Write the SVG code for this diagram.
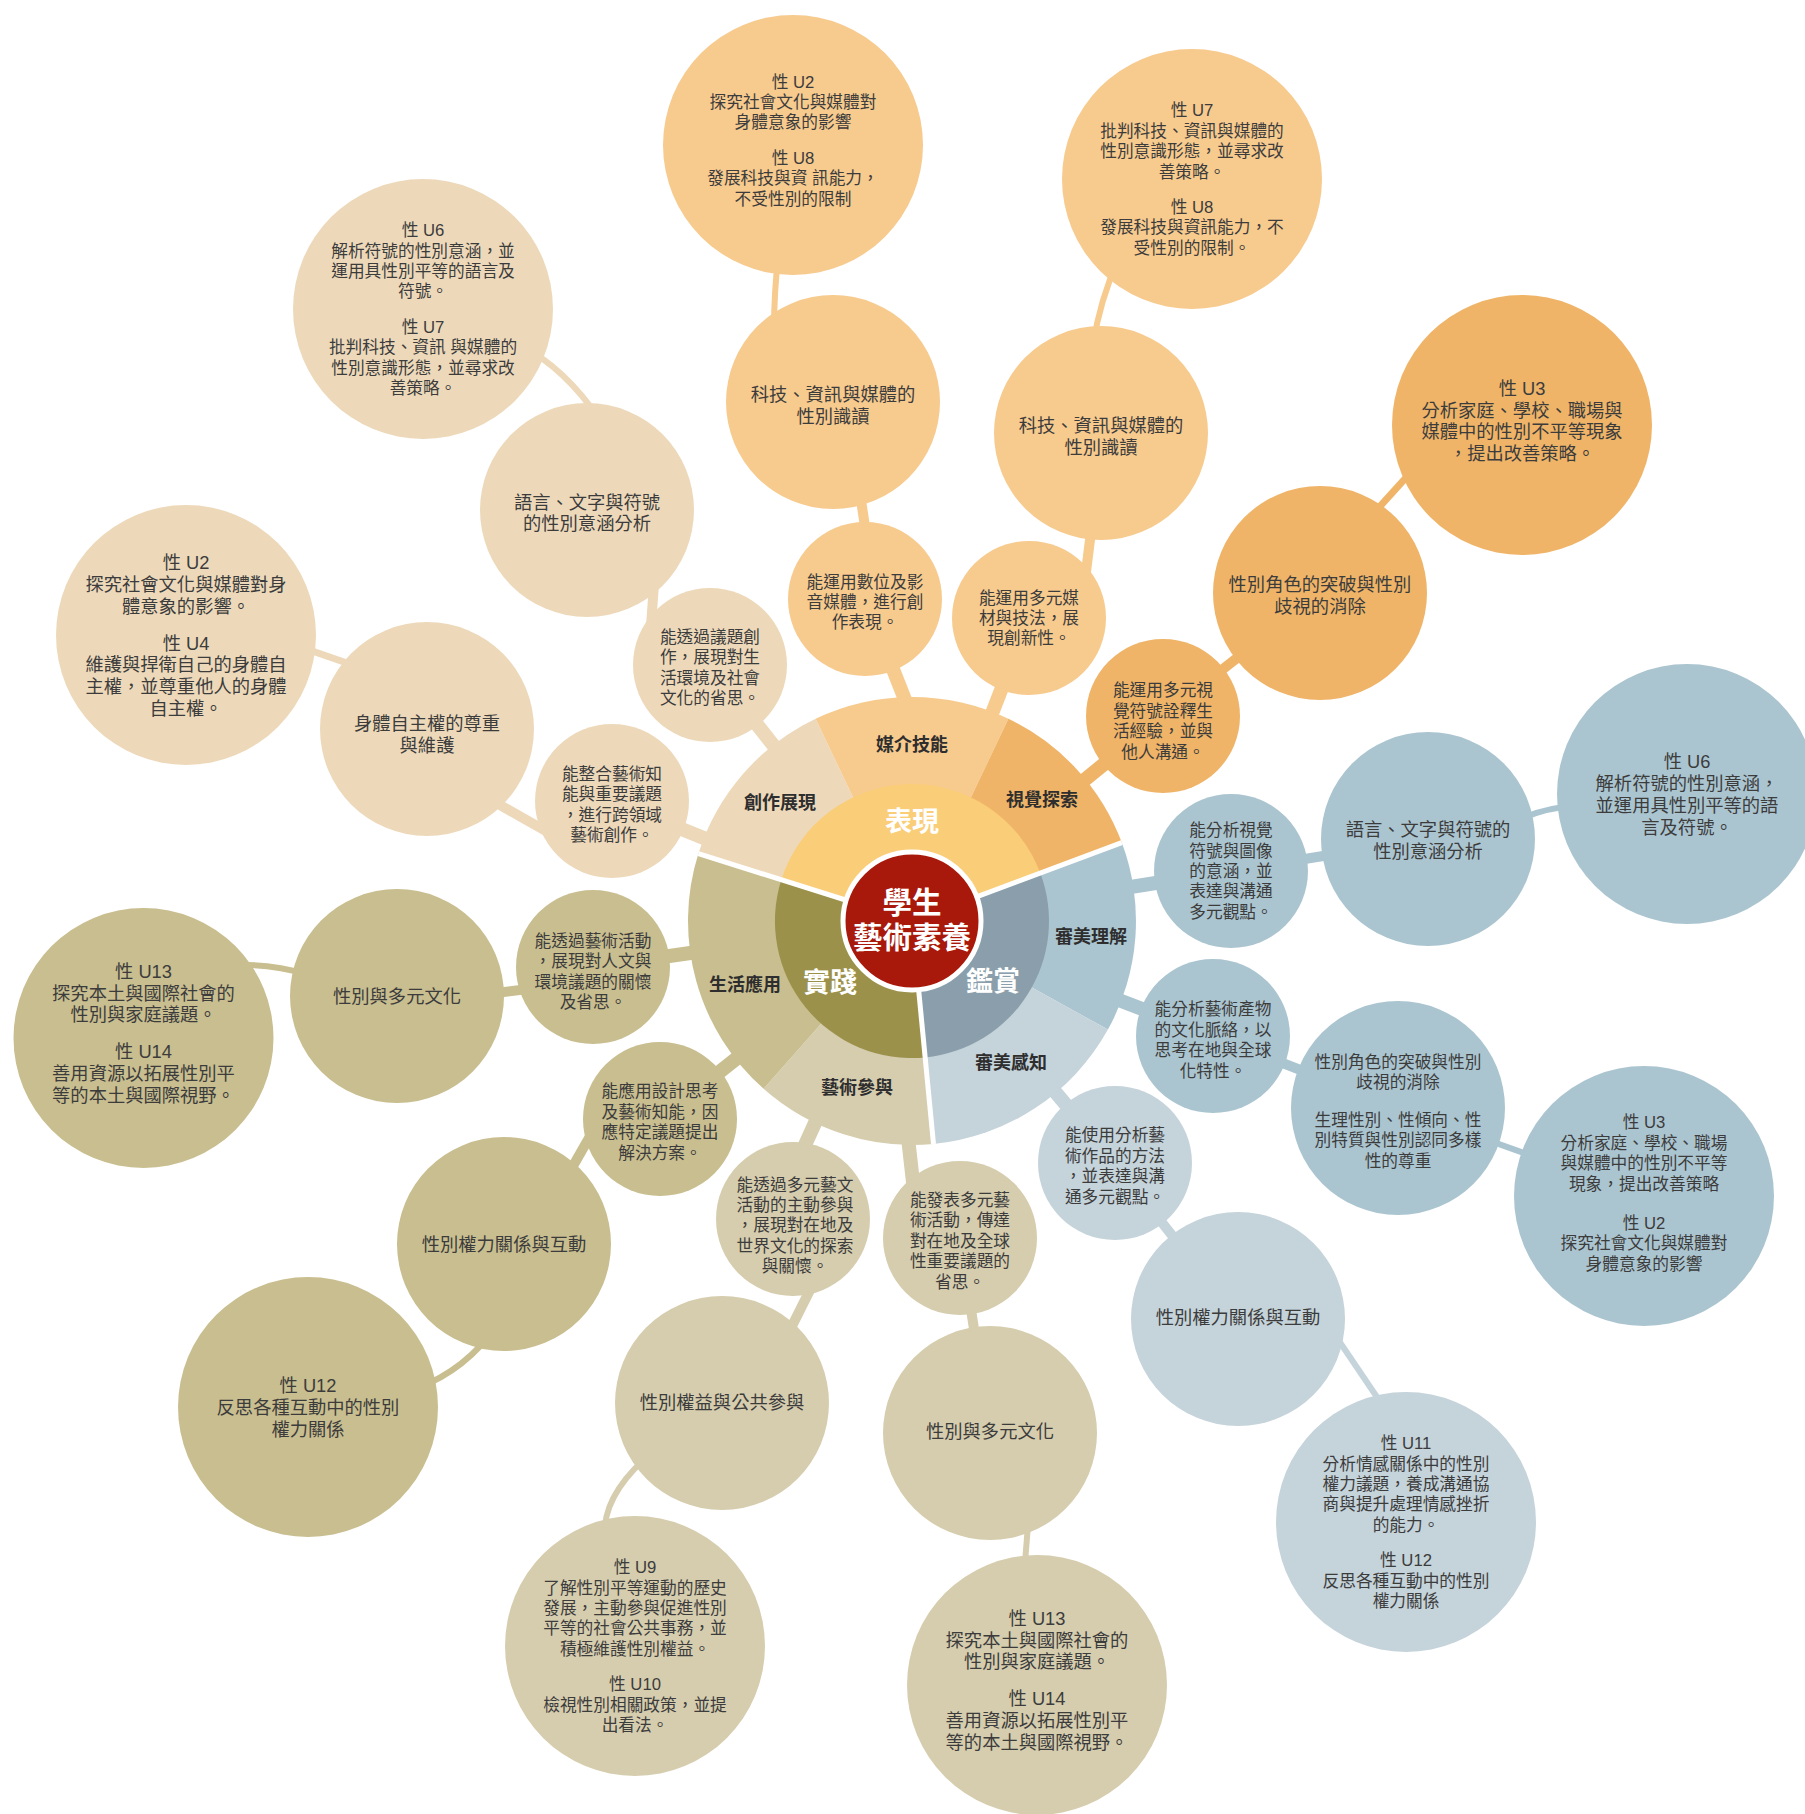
<svg xmlns="http://www.w3.org/2000/svg" width="1805" height="1814" viewBox="0 0 1805 1814">
<style>
.c1{fill:#EDD9BA}.c2{fill:#F7CA8E}.c3{fill:#EFB468}.c4{fill:#ABC5D0}.c5{fill:#C5D3DA}.c6{fill:#C9BE8F}.c7{fill:#D6CDAE}
.k{fill:none;stroke-linecap:butt}
.k1{stroke:#EDD9BA}.k2{stroke:#F7CA8E}.k3{stroke:#EFB468}.k4{stroke:#ABC5D0}.k5{stroke:#C5D3DA}.k6{stroke:#C9BE8F}.k7{stroke:#D6CDAE}
.w14{stroke-width:14}.w10{stroke-width:10}.w6{stroke-width:6}
text{font-family:"Liberation Sans","Noto Sans CJK TC","Noto Sans CJK SC",sans-serif;text-anchor:middle;dominant-baseline:central}
.tx{fill:#3c3c3c}
.s{font-size:16.7px}.m{font-size:18.3px}
.lab{font-size:18px;font-weight:bold;fill:#2e2e2e}
.big{font-size:27px;font-weight:bold;fill:#fff}
.ctr{font-size:29.5px;font-weight:bold;fill:#fff}
</style>
<rect width="1805" height="1814" fill="#fff"/>
<g id="connectors">
<line class="k k1 w14" x1="612" y1="801" x2="741" y2="853"/>
<line class="k k1 w14" x1="710" y1="665" x2="796" y2="774"/>
<line class="k k1 w10" x1="486" y1="797" x2="567" y2="843"/>
<line class="k k1" stroke-width="7" x1="289" y1="643" x2="370" y2="671"/>
<line class="k k1 w10" x1="655" y1="570" x2="650" y2="640"/>
<path class="k k1 w6" d="M520,345 Q565,368 600,420"/>
<line class="k k2 w14" x1="870" y1="611" x2="915" y2="725"/>
<line class="k k2 w14" x1="1029" y1="618" x2="979" y2="747"/>
<line class="k k2 w10" x1="858" y1="480" x2="870" y2="560"/>
<line class="k k2 w10" x1="1095" y1="500" x2="1085" y2="580"/>
<path class="k k2 w6" d="M779,250 Q774,290 774,330"/>
<path class="k k2 w6" d="M1118,260 Q1100,300 1093,345"/>
<line class="k k3 w14" x1="1163" y1="716" x2="1055" y2="804"/>
<line class="k k3 w10" x1="1163" y1="716" x2="1320" y2="593"/>
<line class="k k3" stroke-width="7" x1="1350" y1="539.5" x2="1440" y2="440"/>
<line class="k k4 w14" x1="1231" y1="871" x2="1093" y2="893"/>
<line class="k k4 w10" x1="1231" y1="871" x2="1428" y2="839"/>
<path class="k k4 w6" d="M1500,830 Q1535,808 1575,806"/>
<line class="k k4 w14" x1="1213" y1="1036" x2="1082" y2="986"/>
<line class="k k4 w10" x1="1213" y1="1036" x2="1398" y2="1108"/>
<line class="k k4 w6" x1="1398" y1="1108" x2="1644" y2="1196"/>
<line class="k k5 w14" x1="1115" y1="1163" x2="1025" y2="1056"/>
<line class="k k5 w10" x1="1115" y1="1163" x2="1238" y2="1319"/>
<line class="k k5 w6" x1="1310" y1="1298" x2="1410" y2="1446"/>
<line class="k k6 w14" x1="593" y1="967" x2="732" y2="947"/>
<line class="k k6 w10" x1="440" y1="1000" x2="560" y2="985"/>
<path class="k k6 w6" d="M230,966 Q265,962 310,975"/>
<line class="k k6 w14" x1="660" y1="1119" x2="770" y2="1032"/>
<line class="k k6 w10" x1="565" y1="1180" x2="605" y2="1110"/>
<path class="k k6 w6" d="M405,1392 Q455,1378 490,1335"/>
<line class="k k7 w14" x1="780" y1="1200" x2="830" y2="1090"/>
<line class="k k7 w14" x1="906" y1="1120" x2="915" y2="1200"/>
<line class="k k7 w10" x1="820" y1="1270" x2="785" y2="1340"/>
<path class="k k7 w6" d="M605,1540 Q600,1495 655,1450"/>
<line class="k k7 w10" x1="960" y1="1238" x2="990" y2="1433"/>
<line class="k k7 w6" x1="1030" y1="1500" x2="1022" y2="1600"/>
</g>
<g id="wheel">
<path id="sec-chuangzuo" class="c1" d="M912,921 L698.4,853.6 A224,224 0 0 1 815.6,718.8 Z"/>
<path id="sec-meijie" class="c2" d="M912,921 L815.6,718.8 A224,224 0 0 1 1008.4,718.8 Z"/>
<path id="sec-shijue" class="c3" d="M912,921 L1008.4,718.8 A224,224 0 0 1 1121.8,842.6 Z"/>
<path id="sec-lijie" class="c4" d="M912,921 L1121.8,842.6 A224,224 0 0 1 1107.9,1029.6 Z"/>
<path id="sec-ganzhi" class="c5" d="M912,921 L1107.9,1029.6 A224,224 0 0 1 933.5,1144 Z"/>
<path id="sec-canyu" class="c7" d="M912,921 L933.5,1144 A224,224 0 0 1 763.6,1088.8 Z"/>
<path id="sec-shenghuo" class="c6" d="M912,921 L763.6,1088.8 A224,224 0 0 1 698.4,853.6 Z"/>
<path id="ring-biaoxian" fill="#FACD79" d="M912,921 L781.3,879.8 A137,137 0 0 1 1040.3,873 Z"/>
<path id="ring-jianshang" fill="#8A9FAB" d="M912,921 L1040.3,873 A137,137 0 0 1 925.1,1057.4 Z"/>
<path id="ring-shijian" fill="#9C914A" d="M912,921 L925.1,1057.4 A137,137 0 0 1 781.3,879.8 Z"/>
<g stroke="#fff" stroke-width="5">
<line x1="912" y1="921" x2="698.4" y2="853.6"/>
<line x1="912" y1="921" x2="1121.8" y2="842.6"/>
<line x1="912" y1="921" x2="933.5" y2="1144"/>
</g>
<circle cx="912" cy="921" r="69" fill="#A8190B" stroke="#fff" stroke-width="5"/>
<text class="lab" x="780" y="803">創作展現</text>
<text class="lab" x="912" y="745">媒介技能</text>
<text class="lab" x="1042" y="800">視覺探索</text>
<text class="lab" x="1091" y="937">審美理解</text>
<text class="lab" x="1011" y="1063">審美感知</text>
<text class="lab" x="857" y="1088">藝術參與</text>
<text class="lab" x="745" y="985">生活應用</text>
<text class="big" x="912" y="822">表現</text>
<text class="big" x="830" y="983">實踐</text>
<text class="big" x="993" y="982">鑑賞</text>
<text class="ctr" x="912" y="902">學生</text>
<text class="ctr" x="912" y="937">藝術素養</text>
</g>
<g id="n1"><circle class="c1" cx="423" cy="309" r="130"/><text class="tx s" x="423" y="230.1"><tspan x="423">性 U6</tspan><tspan x="423" dy="20.4">解析符號的性別意涵，並</tspan><tspan x="423" dy="20.4">運用具性別平等的語言及</tspan><tspan x="423" dy="20.4">符號。</tspan><tspan x="423" dy="35.4">性 U7</tspan><tspan x="423" dy="20.4">批判科技、資訊 與媒體的</tspan><tspan x="423" dy="20.4">性別意識形態，並尋求改</tspan><tspan x="423" dy="20.4">善策略。</tspan></text></g>
<g id="n2"><circle class="c1" cx="587" cy="510" r="107"/><text class="tx m" x="587" y="501.5"><tspan x="587">語言、文字與符號</tspan><tspan x="587" dy="21.7">的性別意涵分析</tspan></text></g>
<g id="n3"><circle class="c1" cx="186" cy="635" r="130"/><text class="tx m" x="186" y="562.4"><tspan x="186">性 U2</tspan><tspan x="186" dy="21.7">探究社會文化與媒體對身</tspan><tspan x="186" dy="21.7">體意象的影響。</tspan><tspan x="186" dy="36.7">性 U4</tspan><tspan x="186" dy="21.7">維護與捍衛自己的身體自</tspan><tspan x="186" dy="21.7">主權，並尊重他人的身體</tspan><tspan x="186" dy="21.7">自主權。</tspan></text></g>
<g id="n4"><circle class="c1" cx="427" cy="729" r="107"/><text class="tx m" x="427" y="722.8"><tspan x="427">身體自主權的尊重</tspan><tspan x="427" dy="21.7">與維護</tspan></text></g>
<g id="n5"><circle class="c1" cx="710" cy="665" r="77"/><text class="tx s" x="710" y="636.8"><tspan x="710">能透過議題創</tspan><tspan x="710" dy="20.4">作，展現對生</tspan><tspan x="710" dy="20.4">活環境及社會</tspan><tspan x="710" dy="20.4">文化的省思。</tspan></text></g>
<g id="n6"><circle class="c1" cx="612" cy="801" r="77"/><text class="tx s" x="612" y="773.8"><tspan x="612">能整合藝術知</tspan><tspan x="612" dy="20.4">能與重要議題</tspan><tspan x="612" dy="20.4">，進行跨領域</tspan><tspan x="612" dy="20.4">藝術創作。</tspan></text></g>
<g id="n7"><circle class="c2" cx="793" cy="145" r="130"/><text class="tx s" x="793" y="81.5"><tspan x="793">性 U2</tspan><tspan x="793" dy="20.4">探究社會文化與媒體對</tspan><tspan x="793" dy="20.4">身體意象的影響</tspan><tspan x="793" dy="35.4">性 U8</tspan><tspan x="793" dy="20.4">發展科技與資 訊能力，</tspan><tspan x="793" dy="20.4">不受性別的限制</tspan></text></g>
<g id="n8"><circle class="c2" cx="833" cy="402" r="107"/><text class="tx m" x="833" y="394"><tspan x="833">科技、資訊與媒體的</tspan><tspan x="833" dy="21.7">性別識讀</tspan></text></g>
<g id="n9"><circle class="c2" cx="865" cy="599" r="77"/><text class="tx s" x="865" y="581.5"><tspan x="865">能運用數位及影</tspan><tspan x="865" dy="20.4">音媒體，進行創</tspan><tspan x="865" dy="20.4">作表現。</tspan></text></g>
<g id="n10"><circle class="c2" cx="1029" cy="618" r="77"/><text class="tx s" x="1029" y="597.6"><tspan x="1029">能運用多元媒</tspan><tspan x="1029" dy="20.4">材與技法，展</tspan><tspan x="1029" dy="20.4">現創新性。</tspan></text></g>
<g id="n11"><circle class="c2" cx="1101" cy="433" r="107"/><text class="tx m" x="1101" y="425"><tspan x="1101">科技、資訊與媒體的</tspan><tspan x="1101" dy="21.7">性別識讀</tspan></text></g>
<g id="n12"><circle class="c2" cx="1192" cy="179" r="130"/><text class="tx s" x="1192" y="110.3"><tspan x="1192">性 U7</tspan><tspan x="1192" dy="20.4">批判科技、資訊與媒體的</tspan><tspan x="1192" dy="20.4">性別意識形態，並尋求改</tspan><tspan x="1192" dy="20.4">善策略。</tspan><tspan x="1192" dy="35.4">性 U8</tspan><tspan x="1192" dy="20.4">發展科技與資訊能力，不</tspan><tspan x="1192" dy="20.4">受性別的限制。</tspan></text></g>
<g id="n13"><circle class="c3" cx="1163" cy="716" r="77"/><text class="tx s" x="1163" y="690.4"><tspan x="1163">能運用多元視</tspan><tspan x="1163" dy="20.4">覺符號詮釋生</tspan><tspan x="1163" dy="20.4">活經驗，並與</tspan><tspan x="1163" dy="20.4">他人溝通。</tspan></text></g>
<g id="n14"><circle class="c3" cx="1320" cy="593" r="107"/><text class="tx m" x="1320" y="584"><tspan x="1320">性別角色的突破與性別</tspan><tspan x="1320" dy="21.7">歧視的消除</tspan></text></g>
<g id="n15"><circle class="c3" cx="1522" cy="425" r="130"/><text class="tx m" x="1522" y="388"><tspan x="1522">性 U3</tspan><tspan x="1522" dy="21.7">分析家庭、學校、職場與</tspan><tspan x="1522" dy="21.7">媒體中的性別不平等現象</tspan><tspan x="1522" dy="21.7">，提出改善策略。</tspan></text></g>
<g id="n16"><circle class="c4" cx="1231" cy="871" r="77"/><text class="tx s" x="1231" y="830.2"><tspan x="1231">能分析視覺</tspan><tspan x="1231" dy="20.4">符號與圖像</tspan><tspan x="1231" dy="20.4">的意涵，並</tspan><tspan x="1231" dy="20.4">表達與溝通</tspan><tspan x="1231" dy="20.4">多元觀點。</tspan></text></g>
<g id="n17"><circle class="c4" cx="1428" cy="839" r="107"/><text class="tx m" x="1428" y="829"><tspan x="1428">語言、文字與符號的</tspan><tspan x="1428" dy="21.7">性別意涵分析</tspan></text></g>
<g id="n18"><circle class="c4" cx="1687" cy="794" r="130"/><text class="tx m" x="1687" y="761.45"><tspan x="1687">性 U6</tspan><tspan x="1687" dy="21.7">解析符號的性別意涵，</tspan><tspan x="1687" dy="21.7">並運用具性別平等的語</tspan><tspan x="1687" dy="21.7">言及符號。</tspan></text></g>
<g id="n19"><circle class="c4" cx="1213" cy="1036" r="77"/><text class="tx s" x="1213" y="1009.4"><tspan x="1213">能分析藝術產物</tspan><tspan x="1213" dy="20.4">的文化脈絡，以</tspan><tspan x="1213" dy="20.4">思考在地與全球</tspan><tspan x="1213" dy="20.4">化特性。</tspan></text></g>
<g id="n20"><circle class="c4" cx="1398" cy="1108" r="107"/><text class="tx s" x="1398" y="1062"><tspan x="1398">性別角色的突破與性別</tspan><tspan x="1398" dy="20.4">歧視的消除</tspan><tspan x="1398" dy="37.5">生理性別、性傾向、性</tspan><tspan x="1398" dy="20.4">別特質與性別認同多樣</tspan><tspan x="1398" dy="20.4">性的尊重</tspan></text></g>
<g id="n21"><circle class="c4" cx="1644" cy="1196" r="130"/><text class="tx s" x="1644" y="1122.3"><tspan x="1644">性 U3</tspan><tspan x="1644" dy="20.4">分析家庭、學校、職場</tspan><tspan x="1644" dy="20.4">與媒體中的性別不平等</tspan><tspan x="1644" dy="20.4">現象，提出改善策略</tspan><tspan x="1644" dy="39.4">性 U2</tspan><tspan x="1644" dy="20.4">探究社會文化與媒體對</tspan><tspan x="1644" dy="20.4">身體意象的影響</tspan></text></g>
<g id="n22"><circle class="c5" cx="1115" cy="1163" r="77"/><text class="tx s" x="1115" y="1135.3"><tspan x="1115">能使用分析藝</tspan><tspan x="1115" dy="20.4">術作品的方法</tspan><tspan x="1115" dy="20.4">，並表達與溝</tspan><tspan x="1115" dy="20.4">通多元觀點。</tspan></text></g>
<g id="n23"><circle class="c5" cx="1238" cy="1319" r="107"/><text class="tx m" x="1238" y="1317">性別權力關係與互動</text></g>
<g id="n24"><circle class="c5" cx="1406" cy="1522" r="130"/><text class="tx s" x="1406" y="1443.1"><tspan x="1406">性 U11</tspan><tspan x="1406" dy="20.4">分析情感關係中的性別</tspan><tspan x="1406" dy="20.4">權力議題，養成溝通協</tspan><tspan x="1406" dy="20.4">商與提升處理情感挫折</tspan><tspan x="1406" dy="20.4">的能力。</tspan><tspan x="1406" dy="35.4">性 U12</tspan><tspan x="1406" dy="20.4">反思各種互動中的性別</tspan><tspan x="1406" dy="20.4">權力關係</tspan></text></g>
<g id="n25"><circle class="c6" cx="593" cy="967" r="77"/><text class="tx s" x="593" y="941"><tspan x="593">能透過藝術活動</tspan><tspan x="593" dy="20.4">，展現對人文與</tspan><tspan x="593" dy="20.4">環境議題的關懷</tspan><tspan x="593" dy="20.4">及省思。</tspan></text></g>
<g id="n26"><circle class="c6" cx="397" cy="996" r="107"/><text class="tx m" x="397" y="996">性別與多元文化</text></g>
<g id="n27"><circle class="c6" cx="143.5" cy="1038" r="130"/><text class="tx m" x="143.5" y="971"><tspan x="143.5">性 U13</tspan><tspan x="143.5" dy="21.7">探究本土與國際社會的</tspan><tspan x="143.5" dy="21.7">性別與家庭議題。</tspan><tspan x="143.5" dy="36.7">性 U14</tspan><tspan x="143.5" dy="21.7">善用資源以拓展性別平</tspan><tspan x="143.5" dy="21.7">等的本土與國際視野。</tspan></text></g>
<g id="n28"><circle class="c6" cx="660" cy="1119" r="77"/><text class="tx s" x="660" y="1091.3"><tspan x="660">能應用設計思考</tspan><tspan x="660" dy="20.4">及藝術知能，因</tspan><tspan x="660" dy="20.4">應特定議題提出</tspan><tspan x="660" dy="20.4">解決方案。</tspan></text></g>
<g id="n29"><circle class="c6" cx="504" cy="1244" r="107"/><text class="tx m" x="504" y="1244">性別權力關係與互動</text></g>
<g id="n30"><circle class="c6" cx="308" cy="1407" r="130"/><text class="tx m" x="308" y="1385.3"><tspan x="308">性 U12</tspan><tspan x="308" dy="21.7">反思各種互動中的性別</tspan><tspan x="308" dy="21.7">權力關係</tspan></text></g>
<g id="n31"><circle class="c7" cx="793" cy="1219" r="77"/><text class="tx s" x="795" y="1184.6"><tspan x="795">能透過多元藝文</tspan><tspan x="795" dy="20.4">活動的主動參與</tspan><tspan x="795" dy="20.4">，展現對在地及</tspan><tspan x="795" dy="20.4">世界文化的探索</tspan><tspan x="795" dy="20.4">與關懷。</tspan></text></g>
<g id="n32"><circle class="c7" cx="722" cy="1403" r="107"/><text class="tx m" x="722" y="1402">性別權益與公共參與</text></g>
<g id="n33"><circle class="c7" cx="635" cy="1646" r="130"/><text class="tx s" x="635" y="1567.1"><tspan x="635">性 U9</tspan><tspan x="635" dy="20.4">了解性別平等運動的歷史</tspan><tspan x="635" dy="20.4">發展，主動參與促進性別</tspan><tspan x="635" dy="20.4">平等的社會公共事務，並</tspan><tspan x="635" dy="20.4">積極維護性別權益。</tspan><tspan x="635" dy="35.4">性 U10</tspan><tspan x="635" dy="20.4">檢視性別相關政策，並提</tspan><tspan x="635" dy="20.4">出看法。</tspan></text></g>
<g id="n34"><circle class="c7" cx="960" cy="1238" r="77"/><text class="tx s" x="960" y="1200"><tspan x="960">能發表多元藝</tspan><tspan x="960" dy="20.4">術活動，傳達</tspan><tspan x="960" dy="20.4">對在地及全球</tspan><tspan x="960" dy="20.4">性重要議題的</tspan><tspan x="960" dy="20.4">省思。</tspan></text></g>
<g id="n35"><circle class="c7" cx="990" cy="1433" r="107"/><text class="tx m" x="990" y="1431">性別與多元文化</text></g>
<g id="n36"><circle class="c7" cx="1037" cy="1685" r="130"/><text class="tx m" x="1037" y="1618"><tspan x="1037">性 U13</tspan><tspan x="1037" dy="21.7">探究本土與國際社會的</tspan><tspan x="1037" dy="21.7">性別與家庭議題。</tspan><tspan x="1037" dy="36.7">性 U14</tspan><tspan x="1037" dy="21.7">善用資源以拓展性別平</tspan><tspan x="1037" dy="21.7">等的本土與國際視野。</tspan></text></g>
</svg>
